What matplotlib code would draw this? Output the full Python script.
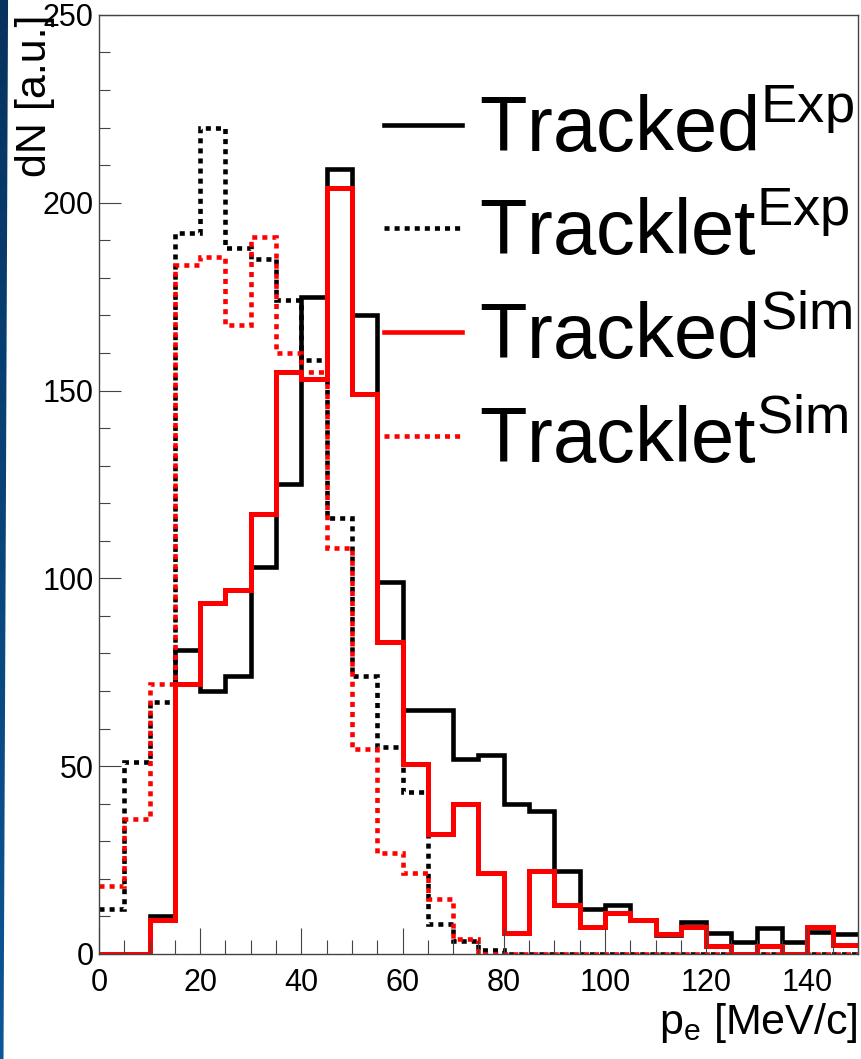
import numpy as np
import matplotlib
matplotlib.use("Agg")
import matplotlib.pyplot as plt
from matplotlib.patches import Polygon

plt.rcParams['font.family'] = ['Liberation Sans', 'DejaVu Sans']
plt.rcParams['mathtext.fontset'] = 'custom'
plt.rcParams['mathtext.rm'] = 'Liberation Sans'
plt.rcParams['mathtext.it'] = 'Liberation Sans'
plt.rcParams['mathtext.default'] = 'regular'

# momentum bins, 5 MeV/c wide
edges = np.arange(0, 155, 5)

tracked_exp = [0, 0, 10, 81, 70, 74, 103, 125, 175, 209,
               170, 99, 65, 65, 52, 53, 40, 38, 22, 12,
               13, 9, 5, 8.6, 5.5, 3.3, 7, 3.3, 5.9, 5.2]
tracklet_exp = [12, 51, 67, 192, 220, 188, 185, 174, 158, 116,
                74, 55, 43, 8, 3.5, 1, 0, 0, 0, 0,
                0, 0, 0, 0, 0, 0, 0, 0, 0, 0]
tracked_sim = [0, 0, 9, 72, 93.5, 97, 117, 155, 153, 204,
               149, 83, 50.5, 32, 40, 21.5, 5.5, 22, 13, 7.3,
               10.8, 9, 5.3, 7.3, 2, 0, 2, 0, 7.3, 2.4]
tracklet_sim = [18, 36, 72, 183.5, 185.5, 167.5, 191, 160, 155, 108,
                54.5, 27, 21.6, 14.5, 4, 0, 0, 0, 0, 0,
                0, 0, 0, 0, 0, 0, 0, 0, 0, 0]

labels = [r'Tracked$^{Exp}$', r'Tracklet$^{Exp}$',
          r'Tracked$^{Sim}$', r'Tracklet$^{Sim}$']

fig = plt.figure(figsize=(8.62, 10.59), dpi=100)
ax = fig.add_axes([0.1148, 0.0992, 0.8805, 0.8867])

dots = (0, (1.1, 1.1))
ax.stairs(tracked_exp, edges, color='black', lw=3.3, baseline=None, label=labels[0])
ax.stairs(tracklet_exp, edges, color='black', lw=3.3, ls=dots, baseline=None, label=labels[1])
ax.stairs(tracked_sim, edges, color='red', lw=3.6, baseline=None, label=labels[2])
ax.stairs(tracklet_sim, edges, color='red', lw=3.3, ls=dots, baseline=None, label=labels[3])

ax.set_xlim(0, 150)
ax.set_ylim(0, 250)
ax.set_xticks(np.arange(0, 141, 20))
ax.set_xticks(np.arange(0, 151, 5), minor=True)
ax.set_yticks(np.arange(0, 251, 50))
ax.set_yticks(np.arange(0, 251, 10), minor=True)

ax.tick_params(axis='both', which='both', direction='in', color='#444444',
               width=0.8, labelsize=22)
ax.tick_params(axis='x', which='major', length=19, pad=10)
ax.tick_params(axis='x', which='minor', length=10)
ax.tick_params(axis='y', which='major', length=16, pad=4)
ax.tick_params(axis='y', which='minor', length=8)
for s in ax.spines.values():
    s.set_color('#444444')
    s.set_linewidth(1.0)

ax.set_xlabel(r'p$_{e}$ [MeV/c]', fontsize=31, loc='right')
ax.xaxis.set_label_coords(1.0, -0.05)
ax.set_ylabel('dN [a.u.]', fontsize=31, loc='top')
ax.yaxis.set_label_coords(-0.058, 1.0)

leg = ax.legend(loc='upper right', bbox_to_anchor=(0.995, 0.915),
                frameon=False, fontsize=56, handlelength=1.0,
                handletextpad=0.22, labelspacing=0.39, borderpad=0,
                borderaxespad=0)
for h in leg.get_lines():
    h.set_linewidth(3.3)

# slide-edge strip on the left
strip = fig.add_axes([0, 0, 0.012, 1])
strip.set_axis_off()
grad = np.linspace(0, 1, 256).reshape(-1, 1)
img = strip.imshow(grad, cmap=matplotlib.colors.LinearSegmentedColormap.from_list(
    'edge', ['#0b5797', '#06325e']), aspect='auto', extent=(0, 1, 0, 1),
    origin='lower')
strip.set_xlim(0, 1)
strip.set_ylim(0, 1)
clip = Polygon([(0, 0), (0.34, 0), (0.78, 1), (0, 1)], closed=True,
               transform=strip.transData, fc='none', ec='none')
strip.add_patch(clip)
img.set_clip_path(clip)

fig.savefig('out.png', dpi=100)
